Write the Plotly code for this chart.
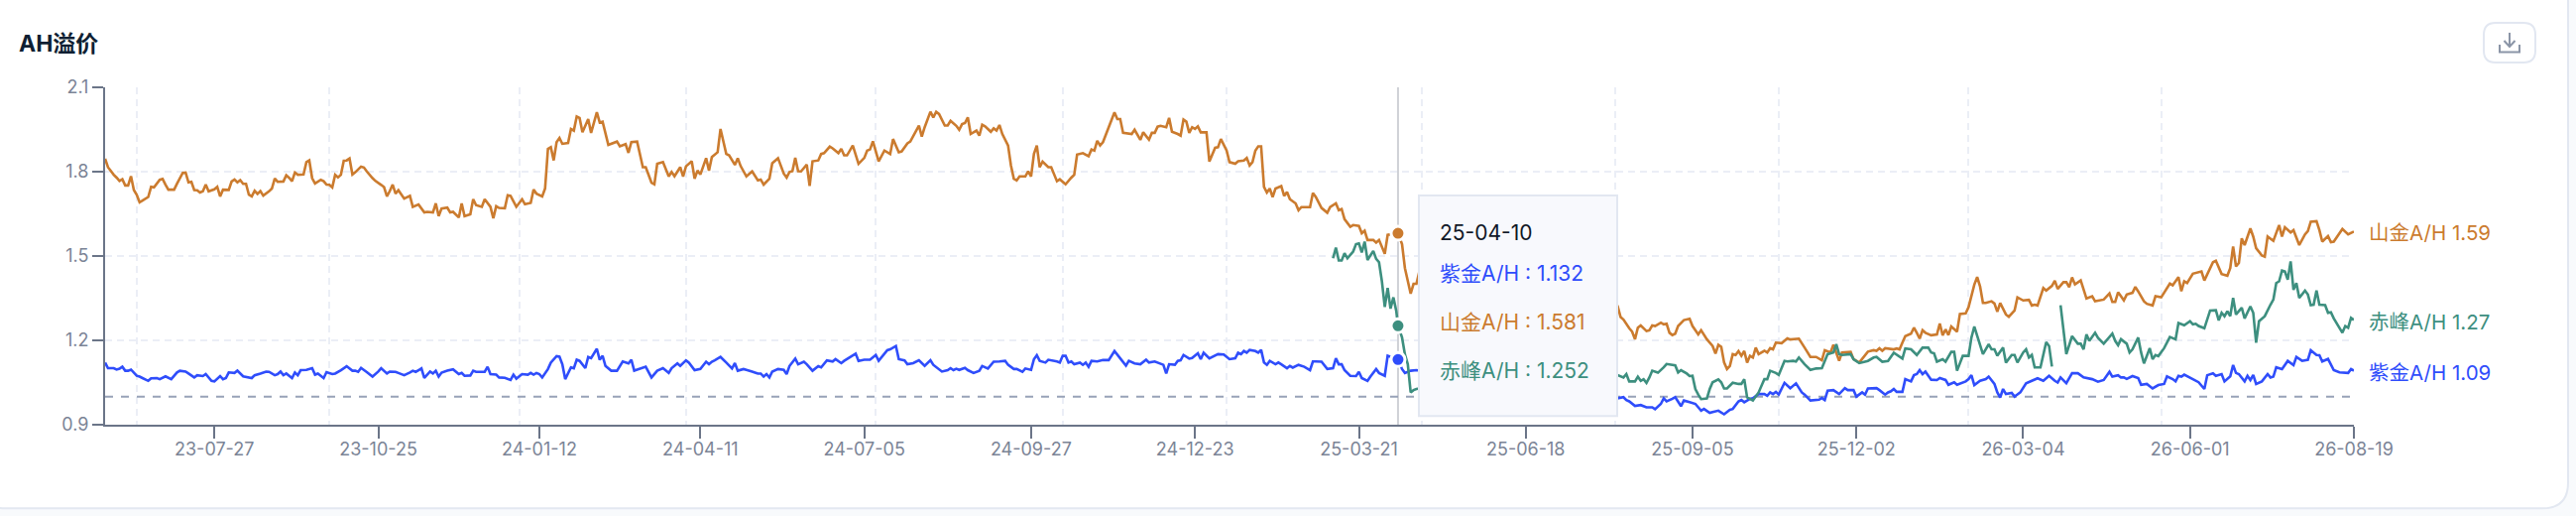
import plotly.graph_objects as go

# --- DATA (trading day index, A/H ratio) ---
shanjin = [
    (0,1.846),(1,1.816),(3,1.789),(4,1.779),(5,1.767),(6,1.773),(7,1.751),(8,1.751),(9,1.784),(10,1.735),(11,1.718),(12,1.691),(13,1.697),(15,1.710),(16,1.746),(17,1.744),(19,1.771),(20,1.774),(21,1.754),(22,1.736),(24,1.736),(25,1.757),(27,1.796),(28,1.797),(29,1.762),(30,1.764),(31,1.735),(32,1.734),(33,1.726),(34,1.730),(35,1.754),(36,1.730),(38,1.737),(39,1.746),(40,1.712),(41,1.736),(43,1.735),(44,1.765),(45,1.772),(46,1.762),(47,1.770),(48,1.757),(49,1.757),(50,1.718),(51,1.712),(52,1.732),(53,1.721),(54,1.731),(55,1.715),(57,1.730),(58,1.740),(59,1.776),(60,1.764),(62,1.765),(63,1.787),(64,1.778),(65,1.766),(66,1.797),(67,1.789),(69,1.790),(70,1.834),(71,1.840),(72,1.777),(73,1.758),(75,1.771),(76,1.766),(77,1.754),(78,1.753),(79,1.744),(80,1.789),(81,1.780),(82,1.789),(83,1.839),(84,1.840),(85,1.847),(86,1.790),(87,1.798),(89,1.818),(90,1.815),(91,1.801),(93,1.777),(94,1.767),(96,1.753),(97,1.745),(98,1.712),
    (99,1.731),(100,1.754),(101,1.722),(102,1.734),(104,1.704),(106,1.714),(107,1.675),(109,1.683),(111,1.655),(112,1.657),(114,1.655),(115,1.687),(116,1.642),(117,1.669),(119,1.672),(120,1.655),(121,1.657),(123,1.637),(124,1.687),(125,1.642),(127,1.648),(128,1.702),(129,1.681),(131,1.675),(132,1.702),(134,1.675),(135,1.634),(136,1.677),(137,1.671),(139,1.670),(140,1.716),(141,1.714),(143,1.675),(145,1.702),(146,1.684),(148,1.689),(149,1.736),(150,1.722),(152,1.712),(153,1.740),(154,1.881),(155,1.887),(156,1.840),(157,1.905),(158,1.920),(159,1.899),(161,1.902),(162,1.952),(163,1.946),(164,1.996),(165,1.991),(166,1.940),(168,1.987),(169,1.938),(171,2.011),(172,1.975),(173,1.978),(175,1.895),(178,1.907),(179,1.890),(181,1.898),(182,1.867),(183,1.905),(185,1.907),(187,1.816),(188,1.816),(190,1.761),(191,1.755),(192,1.828),(194,1.834),(196,1.783),
    (197,1.799),(198,1.784),(200,1.816),(201,1.783),(202,1.819),(204,1.837),(205,1.775),(206,1.804),(207,1.790),(209,1.848),(210,1.804),(211,1.852),(213,1.869),(214,1.952),(216,1.863),(217,1.858),(219,1.824),(220,1.848),(221,1.820),(223,1.783),(225,1.801),(227,1.769),(228,1.772),(229,1.754),(231,1.775),(232,1.830),(234,1.848),(236,1.793),(237,1.779),(238,1.799),(239,1.802),(240,1.849),(241,1.802),(242,1.801),(244,1.825),(245,1.749),(246,1.837),(248,1.840),(249,1.863),(250,1.866),(252,1.889),(253,1.883),(255,1.866),(256,1.881),(257,1.858),(258,1.858),(260,1.893),(262,1.828),(264,1.849),(265,1.875),(266,1.879),(267,1.908),(269,1.837),(271,1.875),(273,1.863),(274,1.916),(276,1.869),(277,1.872),(279,1.901),(280,1.907),(283,1.964),(284,1.925),(285,1.958),(287,2.013),(288,1.993),(289,2.013),(290,2.005),(292,1.964),(293,1.964),(294,1.981),
    (296,1.963),(297,1.949),(298,1.969),(299,1.973),(300,1.993),(301,1.934),(303,1.946),(304,1.928),(305,1.967),(306,1.961),(308,1.942),(309,1.954),(310,1.946),(311,1.966),(312,1.934),(314,1.893),(315,1.822),(316,1.775),(317,1.769),(318,1.783),(320,1.783),(321,1.801),(322,1.783),(323,1.863),(324,1.893),(325,1.816),(326,1.836),(328,1.816),(329,1.816),(331,1.766),(332,1.773),(334,1.755),(336,1.779),(337,1.789),(338,1.861),(340,1.866),(342,1.855),(343,1.879),(344,1.875),(345,1.910),(346,1.893),(347,1.905),(349,1.958),(351,2.011),(352,1.987),(353,1.987),(354,1.938),(357,1.934),(358,1.949),(360,1.913),(361,1.940),(363,1.914),(364,1.938),(365,1.938),(366,1.960),(367,1.963),(369,1.958),(370,1.991),(371,1.942),(373,1.934),(374,1.928),(375,1.985),(376,1.978),(377,1.938),(378,1.958),(379,1.952),(380,1.961),(381,1.940),(383,1.940),(384,1.836),(386,1.885),(387,1.887),(388,1.916),(390,1.875),(391,1.834),(393,1.828),
    (394,1.837),(396,1.840),(397,1.849),(398,1.822),(399,1.834),(400,1.875),(401,1.890),(402,1.890),(403,1.746),(404,1.726),(405,1.740),(406,1.710),(407,1.740),(409,1.749),(410,1.714),(411,1.728),(412,1.702),(414,1.687),(415,1.663),(416,1.674),(419,1.674),(420,1.724),(421,1.710),(423,1.671),(425,1.654),(426,1.674),(428,1.687),(429,1.663),(430,1.667),(431,1.631),(433,1.604),(434,1.610),(436,1.607),(437,1.581),(438,1.590),(439,1.557),(441,1.557),(442,1.548),(443,1.557),(445,1.508),(446,1.575),(449.6,1.581),(451,1.542),(452,1.457),(454,1.366),(455,1.401),(456,1.401),(457,1.444),
    (470,1.42),(490,1.36),(510,1.33),
    (526,1.321),(527,1.283),(528,1.274),(530,1.243),(531,1.231),(532,1.204),(533,1.245),(534,1.253),(536,1.233),(537,1.236),(538,1.253),(539,1.251),(541,1.263),(542,1.257),(543,1.259),(544,1.227),(545,1.219),(546,1.224),(547,1.251),(549,1.272),(551,1.277),(552,1.251),(554,1.221),(555,1.236),(557,1.204),(559,1.180),(560,1.153),(561,1.184),(562,1.177),(563,1.121),(564,1.098),(565,1.109),(566,1.151),(567,1.148),(568,1.162),(569,1.145),(570,1.162),(571,1.121),(572,1.145),(573,1.139),(574,1.174),(575,1.151),(577,1.163),(578,1.157),(579,1.172),(580,1.168),(581,1.192),(583,1.190),(585,1.207),(586,1.203),(589,1.206),(591,1.174),(593,1.141),(595,1.141),(597,1.129),(598,1.165),(600,1.157),(601,1.184),(603,1.127),(604,1.157),(607,1.159),(608,1.133),(610,1.121),(613,1.160),(615,1.165),(616,1.163),(617,1.172),(618,1.163),(619,1.172),(622,1.168),
    (623,1.171),(624,1.168),(625,1.192),(626,1.215),(628,1.224),(629,1.245),(630,1.227),(631,1.206),(632,1.236),(633,1.227),(635,1.218),(637,1.221),(638,1.260),(639,1.218),(640,1.239),(641,1.219),(642,1.249),(644,1.231),(645,1.294),(647,1.296),(648,1.318),(650,1.398),(651,1.425),(652,1.392),(653,1.333),(654,1.333),(656,1.339),(657,1.331),(658,1.302),(659,1.333),(661,1.292),(662,1.284),(664,1.306),(665,1.353),(667,1.342),(669,1.344),(670,1.324),(671,1.327),(672,1.324),(674,1.386),(675,1.377),(677,1.394),(678,1.412),(679,1.383),(681,1.407),(682,1.407),(683,1.389),(684,1.424),(685,1.399),(687,1.413),(688,1.381),(689,1.349),(691,1.357),(692,1.339),(695,1.345),(697,1.367),(698,1.337),(699,1.337),(700,1.371),(701,1.357),
    (702,1.342),(703,1.363),(705,1.369),(706,1.390),(707,1.374),(709,1.339),(710,1.330),(712,1.324),(713,1.357),(715,1.353),(718,1.402),(719,1.396),(721,1.425),(722,1.375),(723,1.410),(724,1.404),(726,1.437),(729,1.445),(730,1.413),(733,1.478),(734,1.483),(736,1.436),(738,1.430),(739,1.457),(740,1.534),(741,1.463),(742,1.475),(743,1.563),(744,1.539),(746,1.598),(747,1.569),(748,1.528),(750,1.502),(751,1.498),(752,1.569),(754,1.554),(756,1.610),(757,1.569),(758,1.602),(760,1.584),(761,1.592),(763,1.539),(765,1.577),(766,1.589),(767,1.622),(769,1.624),(770,1.592),(771,1.551),(773,1.571),(774,1.549),(775,1.551),(777,1.581),(778,1.596),(780,1.577),(782,1.587),
]

zijin = [
    (0,1.121),(1,1.101),(3,1.101),(4,1.096),(5,1.099),(6,1.106),(7,1.092),(8,1.092),(9,1.096),(11,1.074),(12,1.071),(13,1.066),(15,1.056),(16,1.065),(18,1.066),(19,1.062),(21,1.072),(23,1.062),(25,1.086),(26,1.092),(28,1.089),(29,1.082),(31,1.068),(32,1.076),(34,1.073),(35,1.080),(37,1.056),(38,1.054),(40,1.073),(41,1.062),(42,1.066),(43,1.086),(45,1.084),(46,1.092),(48,1.072),(51,1.066),(52,1.076),(54,1.082),(56,1.089),(57,1.088),(59,1.076),(60,1.080),(61,1.089),(62,1.076),(63,1.082),(65,1.066),(66,1.086),(67,1.076),(68,1.094),(70,1.095),(72,1.101),(73,1.078),(74,1.082),(76,1.066),(77,1.087),(79,1.080),(80,1.082),(82,1.094),(84,1.108),(86,1.092),(87,1.092),(88,1.088),(89,1.102),(91,1.087),(93,1.071),(95,1.089),(96,1.101),(98,1.082),
    (99,1.089),(101,1.088),(102,1.084),(104,1.076),(106,1.086),(107,1.092),(108,1.088),(109,1.094),(110,1.100),(111,1.066),(113,1.089),(114,1.082),(115,1.092),(116,1.071),(117,1.085),(119,1.092),(121,1.097),(123,1.080),(124,1.084),(125,1.074),(127,1.075),(128,1.092),(129,1.088),(132,1.088),(133,1.106),(134,1.080),(136,1.078),(137,1.068),(139,1.067),(141,1.059),(142,1.078),(143,1.064),(145,1.080),(147,1.078),(148,1.084),(149,1.078),(150,1.084),(151,1.080),(152,1.068),(154,1.098),(155,1.121),(157,1.144),(158,1.142),(159,1.115),(160,1.062),(162,1.104),(163,1.101),(164,1.131),(165,1.127),(167,1.101),(168,1.141),(169,1.137),(171,1.170),(172,1.131),(173,1.145),(174,1.109),(176,1.092),(178,1.092),(180,1.125),(182,1.118),(183,1.131),(184,1.092),(188,1.106),(190,1.068),(192,1.092),(194,1.101),(196,1.084),
    (197,1.101),(199,1.118),(200,1.109),(202,1.129),(203,1.121),(205,1.094),(207,1.098),(209,1.124),(210,1.115),(211,1.124),(212,1.129),(214,1.141),(216,1.121),(218,1.100),(219,1.119),(220,1.092),(222,1.098),(223,1.095),(225,1.089),(227,1.082),(228,1.082),(229,1.071),(230,1.080),(231,1.068),(232,1.089),(234,1.098),(236,1.095),(237,1.080),(238,1.109),(240,1.135),(241,1.115),(243,1.124),(244,1.115),(246,1.092),(248,1.108),(249,1.104),(251,1.129),(253,1.125),(254,1.133),(256,1.119),(257,1.127),(261,1.153),(262,1.127),(264,1.131),(266,1.131),(268,1.148),(269,1.127),(272,1.165),(273,1.168),(275,1.180),(276,1.133),(278,1.129),(279,1.115),(281,1.119),(283,1.129),(285,1.109),(287,1.129),(288,1.113),(291,1.089),(293,1.094),(294,1.101),
    (295,1.094),(296,1.099),(297,1.095),(299,1.102),(300,1.094),(302,1.084),(304,1.092),(305,1.109),(307,1.100),(309,1.124),(311,1.125),(313,1.127),(314,1.113),(316,1.098),(317,1.098),(319,1.088),(320,1.100),(322,1.095),(323,1.133),(324,1.147),(325,1.127),(327,1.121),(328,1.131),(331,1.125),(332,1.121),(333,1.145),(334,1.145),(335,1.121),(336,1.125),(337,1.115),(339,1.121),(340,1.113),(341,1.121),(342,1.106),(343,1.127),(345,1.125),(347,1.130),(349,1.130),(351,1.162),(353,1.136),(355,1.110),(356,1.127),(358,1.118),(360,1.115),(362,1.131),(363,1.121),(365,1.125),(368,1.113),(369,1.082),(370,1.115),(372,1.113),(373,1.127),(374,1.129),(375,1.148),(377,1.135),(378,1.137),(380,1.154),(381,1.133),(382,1.156),(384,1.136),(387,1.151),(389,1.150),(391,1.133),(393,1.136),
    (394,1.156),(395,1.151),(396,1.162),(397,1.156),(398,1.166),(400,1.162),(401,1.156),(402,1.166),(403,1.121),(404,1.113),(405,1.127),(407,1.115),(408,1.121),(409,1.115),(411,1.101),(412,1.109),(413,1.103),(415,1.113),(417,1.106),(419,1.094),(420,1.125),(421,1.125),(423,1.124),(425,1.098),(427,1.101),(428,1.136),(429,1.115),(430,1.115),(431,1.094),(433,1.074),(435,1.073),(436,1.088),(437,1.066),(439,1.056),(440,1.071),(442,1.098),(443,1.084),(445,1.074),(446,1.145),(449.6,1.132),(451,1.098),(452,1.084),(454,1.092),(456,1.094),
    (470,1.07),(490,1.04),(510,1.01),
    (526,0.994),(528,0.998),(529,0.988),(530,0.983),(532,0.967),(534,0.970),(536,0.962),(538,0.962),(539,0.955),(541,0.974),(542,0.994),(543,0.983),(545,0.992),(546,0.998),(548,0.966),(549,0.986),(551,0.980),(553,0.974),(555,0.950),(556,0.956),(558,0.942),(559,0.945),(561,0.950),(563,0.937),(565,0.953),(566,0.956),(568,0.983),(569,0.988),(570,0.980),(572,0.992),(573,0.994),(575,1.009),(577,1.009),(578,1.003),(579,1.015),(580,1.009),(581,1.017),(582,1.007),(584,1.049),(586,1.030),(588,1.047),(590,1.015),(591,1.007),(593,0.986),(596,0.989),(597,0.995),(598,0.988),(599,1.021),(601,1.023),(603,1.009),(605,1.030),(606,1.023),(608,1.023),(609,1.000),(611,1.015),(612,1.007),(613,1.029),(616,1.030),(617,1.023),(619,1.007),(620,1.015),(621,1.019),(622,1.027),
    (623,1.017),(625,1.017),(626,1.062),(628,1.054),(629,1.076),(630,1.080),(631,1.094),(632,1.080),(633,1.089),(635,1.060),(637,1.059),(638,1.066),(640,1.059),(641,1.042),(643,1.051),(644,1.042),(647,1.054),(648,1.062),(649,1.076),(650,1.041),(652,1.056),(654,1.062),(655,1.071),(657,1.045),(658,1.015),(659,0.997),(660,1.027),(661,1.009),(663,1.013),(664,1.000),(666,1.015),(668,1.047),(670,1.056),(672,1.065),(674,1.056),(676,1.074),(678,1.056),(679,1.050),(680,1.068),(682,1.048),(684,1.083),(686,1.083),(688,1.068),(691,1.062),(693,1.053),(695,1.059),(697,1.088),(698,1.071),(700,1.076),(701,1.068),
    (702,1.068),(703,1.063),(705,1.073),(707,1.066),(708,1.042),(710,1.045),(712,1.029),(714,1.041),(716,1.045),(717,1.072),(719,1.062),(720,1.054),(721,1.074),(722,1.071),(723,1.078),(726,1.062),(728,1.051),(730,1.027),(731,1.076),(733,1.083),(734,1.074),(736,1.080),(737,1.054),(739,1.072),(740,1.112),(741,1.084),(742,1.080),(744,1.054),(745,1.074),(746,1.059),(747,1.077),(748,1.045),(750,1.054),(752,1.080),(753,1.068),(754,1.071),(755,1.104),(757,1.098),(759,1.127),(761,1.112),(762,1.141),(764,1.127),(766,1.131),(767,1.165),(769,1.148),(770,1.147),(771,1.125),(773,1.134),(775,1.094),(777,1.086),(780,1.084),(781,1.098),(782,1.092),
]

chifeng = [
    (427,1.492),(428,1.530),(429,1.484),(430,1.484),(431,1.510),(432,1.492),(434,1.516),(435,1.542),(436,1.545),(437,1.513),(438,1.551),(439,1.486),(441,1.518),(442,1.490),(443,1.478),(444,1.410),(445,1.319),(446,1.386),(447,1.313),(448,1.353),(449,1.304),(449.6,1.252),(451,1.210),(452,1.150),(453,1.115),(454,1.015),(455,1.023),(456,1.027),
    (470,1.05),(490,1.06),(510,1.07),
    (526,1.076),(528,1.068),(529,1.080),(530,1.054),(532,1.054),(533,1.071),(534,1.056),(535,1.062),(536,1.049),(537,1.068),(538,1.092),(540,1.085),(542,1.104),(543,1.116),(546,1.111),(547,1.086),(548,1.094),(550,1.082),(551,1.073),(552,1.074),(553,1.027),(554,1.007),(555,0.991),(557,0.993),(558,1.027),(559,1.051),(561,1.061),(562,1.051),(563,1.029),(564,1.029),(566,1.049),(568,1.045),(569,1.045),(570,1.062),(571,0.997),(573,0.986),(575,1.015),(577,1.062),(578,1.062),(579,1.092),(581,1.084),(582,1.077),(584,1.127),(585,1.125),(587,1.127),(588,1.125),(589,1.139),(591,1.115),(593,1.095),(595,1.100),(597,1.101),(599,1.151),(601,1.157),(602,1.186),(603,1.151),(604,1.148),(607,1.151),(608,1.133),(610,1.119),(613,1.127),(615,1.139),(616,1.141),(618,1.124),(620,1.127),(622,1.156),
    (625,1.135),(626,1.171),(628,1.168),(630,1.148),(632,1.174),(634,1.174),(635,1.157),(636,1.154),(637,1.124),(639,1.133),(640,1.124),(642,1.159),(643,1.159),(644,1.092),(646,1.145),(648,1.145),(649,1.210),(650,1.249),(653,1.151),(655,1.186),(656,1.168),(657,1.168),(658,1.145),(660,1.174),(661,1.121),(663,1.148),(664,1.148),(665,1.121),(667,1.157),(668,1.168),(669,1.139),(670,1.148),(671,1.104),(673,1.104),(675,1.194),(676,1.180),(677,1.107),
    (678,None),
    (680,1.325),(682,1.151),(684,1.215),(686,1.188),(687,1.188),(688,1.168),(689,1.221),(690,1.198),(692,1.227),(693,1.209),(695,1.188),(698,1.224),(699,1.198),(700,1.183),(701,1.204),
    (703,1.188),(704,1.157),(705,1.168),(707,1.210),(708,1.157),(709,1.118),(711,1.172),(712,1.133),(713,1.148),(714,1.144),(716,1.172),(718,1.212),(720,1.204),(721,1.262),(723,1.254),(725,1.268),(726,1.257),(727,1.259),(728,1.251),(730,1.243),(732,1.306),(734,1.307),(735,1.271),(736,1.298),(737,1.286),(738,1.304),(739,1.286),(740,1.351),(741,1.292),(743,1.316),(744,1.278),(746,1.321),(747,1.298),(748,1.192),(749,1.268),(751,1.286),(753,1.327),(754,1.345),(755,1.404),(756,1.410),(757,1.448),(758,1.445),(759,1.416),(760,1.481),(761,1.380),(762,1.404),(763,1.351),(765,1.377),(766,1.363),(767,1.325),(768,1.327),(769,1.377),(770,1.327),(772,1.325),(773,1.298),(774,1.300),(775,1.278),(778,1.227),(779,1.251),(780,1.245),(781,1.280),(782,1.273),
]

tick_days = [38, 95, 151, 207, 264, 322, 379, 436, 494, 552, 609, 667, 725, 782]
tick_labels = ["23-07-27", "23-10-25", "24-01-12", "24-04-11", "24-07-05", "24-09-27", "24-12-23",
               "25-03-21", "25-06-18", "25-09-05", "25-12-02", "26-03-04", "26-06-01", "26-08-19"]
grid_days = [11, 78, 144, 202, 268, 333, 390, 458, 525, 582, 648, 715, 782]
y_ticks = [0.9, 1.2, 1.5, 1.8, 2.1]

hover_day = 449.6
hover_date = "25-04-10"
hover_vals = {"紫金A/H": 1.132, "山金A/H": 1.581, "赤峰A/H": 1.252}
last_vals = {"山金A/H": 1.59, "赤峰A/H": 1.27, "紫金A/H": 1.09}

# --- STYLE ---
BLUE = "#2f4dfb"
ORANGE = "#cb7b2e"
GREEN = "#3d8f7f"
FONT = "Inter, 'Noto Sans CJK SC', sans-serif"
AXIS = "#6b7588"
LABEL = "#7b8496"
GRID = "#ebeef6"

# plot area in page pixels
L, R, T, B = 106, 2374, 88, 427.7
W, H = 2598, 520

def fx(px):
    return (px - L) / (R - L)

def fy(py):
    return (B - py) / (B - T)

def rounded(x0, y0, x1, y1, r):
    """Rounded rectangle path in paper coordinates."""
    pts = [("M", x0 + r, y0), ("L", x1 - r, y0), ("Q", x1, y0, x1, y0 + r), ("L", x1, y1 - r),
           ("Q", x1, y1, x1 - r, y1), ("L", x0 + r, y1), ("Q", x0, y1, x0, y1 - r), ("L", x0, y0 + r),
           ("Q", x0, y0, x0 + r, y0)]
    out = ""
    for p in pts:
        nums = []
        for i in range(1, len(p), 2):
            nums.append(f"{fx(p[i]):.5f},{fy(p[i + 1]):.5f}")
        out += p[0] + " ".join(nums) + " "
    return out + "Z"

def poly(points):
    return "M" + " L".join(f"{fx(a):.5f},{fy(b):.5f}" for a, b in points)

fig = go.Figure()

# reference line at parity
fig.add_trace(go.Scatter(x=[0, 781], y=[1.0, 1.0], mode="lines", hoverinfo="skip",
                         line=dict(color="#98a2b8", width=2, dash="8px,8px")))

for pairs, color in [(zijin, BLUE), (shanjin, ORANGE), (chifeng, GREEN)]:
    days, vals = zip(*pairs)
    fig.add_trace(go.Scatter(x=days, y=vals, mode="lines", connectgaps=False, hoverinfo="skip",
                             line=dict(color=color, width=2.6, simplify=False)))

# hover dots
for name, color in [("赤峰A/H", GREEN), ("山金A/H", ORANGE), ("紫金A/H", BLUE)]:
    fig.add_trace(go.Scatter(x=[hover_day], y=[hover_vals[name]], mode="markers", hoverinfo="skip",
                             marker=dict(color=color, size=14, line=dict(color="white", width=3))))

shapes = [
    # card
    dict(type="path", xref="paper", yref="paper", layer="below", path=rounded(-20, -30, 2590, 512, 26),
         fillcolor="white", line=dict(color="#e3e8f1", width=2)),
    # crosshair
    dict(type="line", xref="x", yref="paper", layer="below", x0=hover_day, x1=hover_day, y0=0, y1=1,
         line=dict(color="#cfd1d6", width=2)),
    # tooltip
    dict(type="rect", xref="paper", yref="paper", layer="above", x0=fx(1431), x1=fx(1631), y0=fy(419), y1=fy(197),
         fillcolor="#f8f9fd", line=dict(color="#e2e7f1", width=2)),
    # download button
    dict(type="path", xref="paper", yref="paper", layer="below", path=rounded(2505, 23, 2557, 63, 12),
         fillcolor="white", line=dict(color="#e2e7f1", width=2)),
    dict(type="path", xref="paper", yref="paper", layer="above", path=poly([(2531, 33), (2531, 47)]),
         line=dict(color="#8b95a7", width=2)),
    dict(type="path", xref="paper", yref="paper", layer="above", path=poly([(2525.5, 41), (2531, 47), (2536.5, 41)]),
         line=dict(color="#8b95a7", width=2)),
    dict(type="path", xref="paper", yref="paper", layer="above", path=poly([(2521, 45), (2521, 52.5), (2541, 52.5), (2541, 45)]),
         line=dict(color="#8b95a7", width=2)),
]

annotations = [
    dict(x=fx(17), y=fy(44), text="<b>AH溢价</b>", font=dict(size=23, color="#0f1f33", family=FONT)),
    dict(x=fx(1450), y=fy(234), text=hover_date, font=dict(size=21, color="#111827", family=FONT)),
]
for (name, color), py in zip([("紫金A/H", BLUE), ("山金A/H", ORANGE), ("赤峰A/H", GREEN)], [275.7, 324, 373]):
    annotations.append(dict(x=fx(1450), y=fy(py), text=f"{name} : {hover_vals[name]:.3f}",
                            font=dict(size=21, color=color, family=FONT)))
for (name, color), py in zip([("山金A/H", ORANGE), ("赤峰A/H", GREEN), ("紫金A/H", BLUE)], [234, 324, 375]):
    annotations.append(dict(x=fx(2387), y=fy(py), text=f"{name} {last_vals[name]:.2f}",
                            font=dict(size=20.5, color=color, family=FONT)))
for a in annotations:
    a.update(xref="paper", yref="paper", xanchor="left", yanchor="middle", showarrow=False)

fig.update_layout(
    width=W, height=H, showlegend=False,
    margin=dict(l=L, r=W - R, t=T, b=H - B, pad=0),
    paper_bgcolor="#f8fafc", plot_bgcolor="rgba(0,0,0,0)",
    font=dict(family=FONT, color=LABEL, size=18),
    shapes=shapes, annotations=annotations,
    xaxis=dict(range=[0, 782], tickmode="array", tickvals=tick_days, ticktext=tick_labels,
               showgrid=False, zeroline=False, showline=True, linecolor=AXIS, linewidth=2,
               ticks="outside", ticklen=12, tickwidth=2, tickcolor=AXIS, ticklabelstandoff=-5,
               tickfont=dict(size=18, color=LABEL),
               minor=dict(tickmode="array", tickvals=grid_days, showgrid=True, gridcolor=GRID, gridwidth=2,
                          griddash="7px,5px", ticks="")),
    yaxis=dict(range=[0.9, 2.1], tickmode="array", tickvals=y_ticks, ticktext=[f"{v:.1f}" for v in y_ticks],
               showgrid=True, gridcolor=GRID, gridwidth=2, griddash="7px,5px", zeroline=False,
               showline=True, linecolor=AXIS, linewidth=2,
               ticks="outside", ticklen=11, tickwidth=2, tickcolor=AXIS,
               tickfont=dict(size=18, color=LABEL)),
)

fig.write_html("out.html", config={"displayModeBar": False}, post_script="document.body.style.margin='0';")
